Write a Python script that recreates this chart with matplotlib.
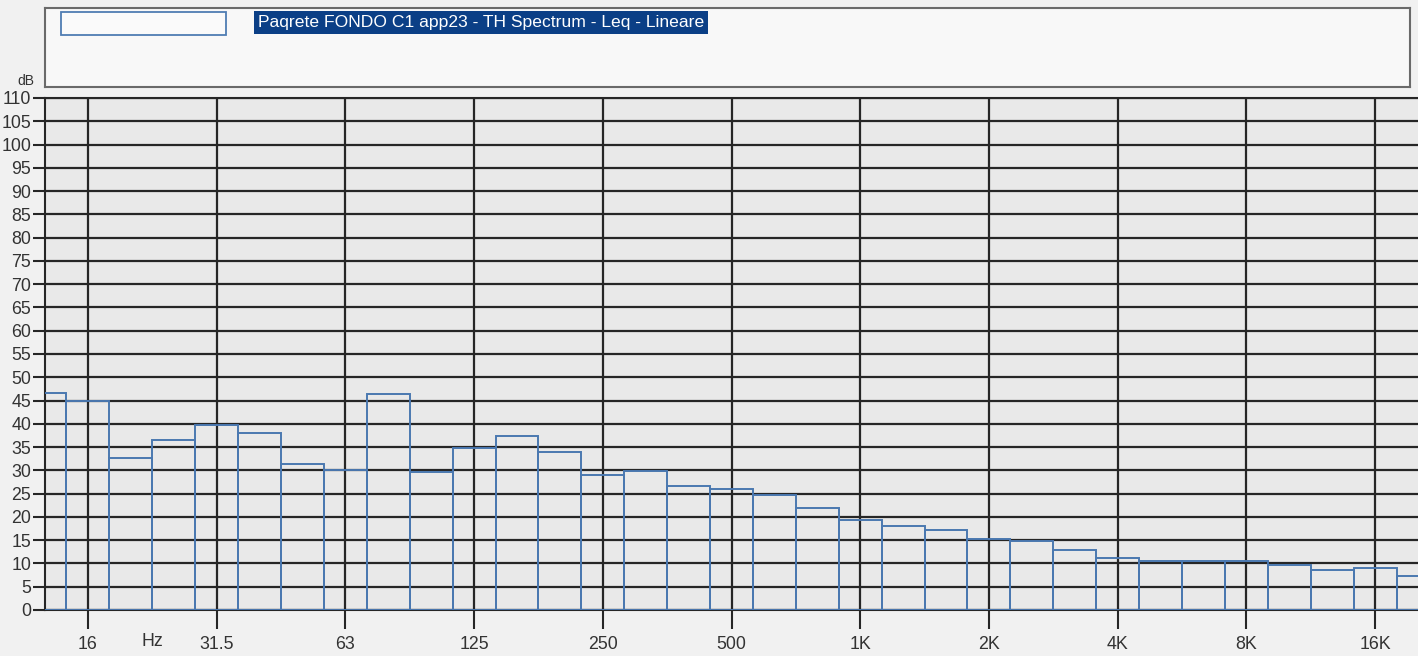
import numpy as np
import matplotlib
matplotlib.use("Agg")
import matplotlib.pyplot as plt
from matplotlib.patches import Rectangle
from matplotlib.transforms import blended_transform_factory

plt.rcParams['font.family'] = ['Liberation Sans Narrow', 'Liberation Sans', 'DejaVu Sans']

# 1/3-octave band nominal centre frequencies (Hz)
bands = [12.5, 16, 20, 25, 31.5, 40, 50, 63, 80, 100, 125, 160, 200, 250, 315,
         400, 500, 630, 800, 1000, 1250, 1600, 2000, 2500, 3150, 4000, 5000,
         6300, 8000, 10000, 12500, 16000, 20000]
# Leq levels (dB, linear weighting)
levels = [46.6, 45.0, 32.7, 36.6, 39.7, 38.0, 31.4, 30.0, 46.3, 29.7, 34.8,
          37.3, 33.9, 28.9, 29.9, 26.6, 26.0, 24.6, 21.9, 19.3, 18.0, 17.2,
          15.3, 14.8, 12.8, 11.1, 10.5, 10.5, 10.5, 9.7, 8.6, 9.0, 7.3]
octave_labels = ["16", "31.5", "63", "125", "250", "500", "1K", "2K", "4K", "8K", "16K"]
octave_nominal = [16, 31.5, 63, 125, 250, 500, 1000, 2000, 4000, 8000, 16000]
yticks = list(range(0, 111, 5))
title = "Paqrete FONDO C1 app23 - TH Spectrum - Leq - Lineare"

def exact(f, per_oct=3):
    n = round(per_oct * np.log2(f / 1000.0))
    return 1000.0 * 2 ** (n / per_oct)

centers = np.array([exact(f) for f in bands])
lefts = centers * 2 ** (-1 / 6)
rights = centers * 2 ** (1 / 6)
oct_pos = [exact(f, 1) for f in octave_nominal]

W, H = 1418, 656
fig = plt.figure(figsize=(W / 100, H / 100), dpi=100, facecolor='#f1f1f1')

# legend panel
lax = fig.add_axes([45 / W, 1 - 87 / H, (1410 - 45) / W, (87 - 8) / H])
lax.set_facecolor('#f8f8f8')
lax.set_xticks([]); lax.set_yticks([])
for s in lax.spines.values():
    s.set_color('#6a6a6a'); s.set_linewidth(1.5)
lax.set_xlim(45, 1410); lax.set_ylim(87, 8)
lax.add_patch(Rectangle((61, 12), 165, 23, facecolor='#fafafa', edgecolor='#4f7db3', lw=1.3))
lax.text(258, 22.5, title, fontsize=12.6, color='white', va='center', ha='left',
         bbox=dict(boxstyle='square,pad=0.22', facecolor='#0b3f86', edgecolor='none'))

# main chart
ax = fig.add_axes([45 / W, 1 - 610 / H, (W - 45) / W, (610 - 98) / H])
ax.set_facecolor('#e9e9e9')
ax.set_xscale('log')
ax.set_xlim(centers[0], centers[-1])
ax.set_ylim(0, 110)

ax.bar(lefts, levels, width=rights - lefts, align='edge', fill=False,
       edgecolor='#4a78b0', linewidth=1.4, zorder=3)

ax.set_xticks(oct_pos)
ax.set_xticklabels(octave_labels)
ax.xaxis.set_minor_locator(matplotlib.ticker.NullLocator())
ax.set_yticks(yticks)
ax.set_yticklabels([str(v) for v in yticks])
ax.grid(True, which='major', color='#262626', linewidth=1.6, zorder=1)
ax.set_axisbelow(True)
ax.tick_params(axis='x', length=14, width=1.5, color='#262626', labelsize=12.8,
               labelcolor='#333333', pad=5)
ax.tick_params(axis='y', length=9, width=1.5, color='#262626', labelsize=12.8,
               labelcolor='#333333', pad=1)
for s in ['left', 'bottom', 'top']:
    ax.spines[s].set_color('#262626'); ax.spines[s].set_linewidth(1.5)
ax.spines['right'].set_visible(False)

# unit labels
tx = blended_transform_factory(ax.transData, ax.transAxes)
ax.text(np.sqrt(oct_pos[0] * oct_pos[1]), -0.045, "Hz", transform=tx, ha='center',
        va='top', fontsize=12.8, color='#333333')
ty = blended_transform_factory(ax.transAxes, ax.transData)
ax.text(-0.008, 113.6, "dB", transform=ty, ha='right', va='center',
        fontsize=10, color='#333333', clip_on=False)

fig.savefig("out.png", dpi=100, facecolor=fig.get_facecolor())
